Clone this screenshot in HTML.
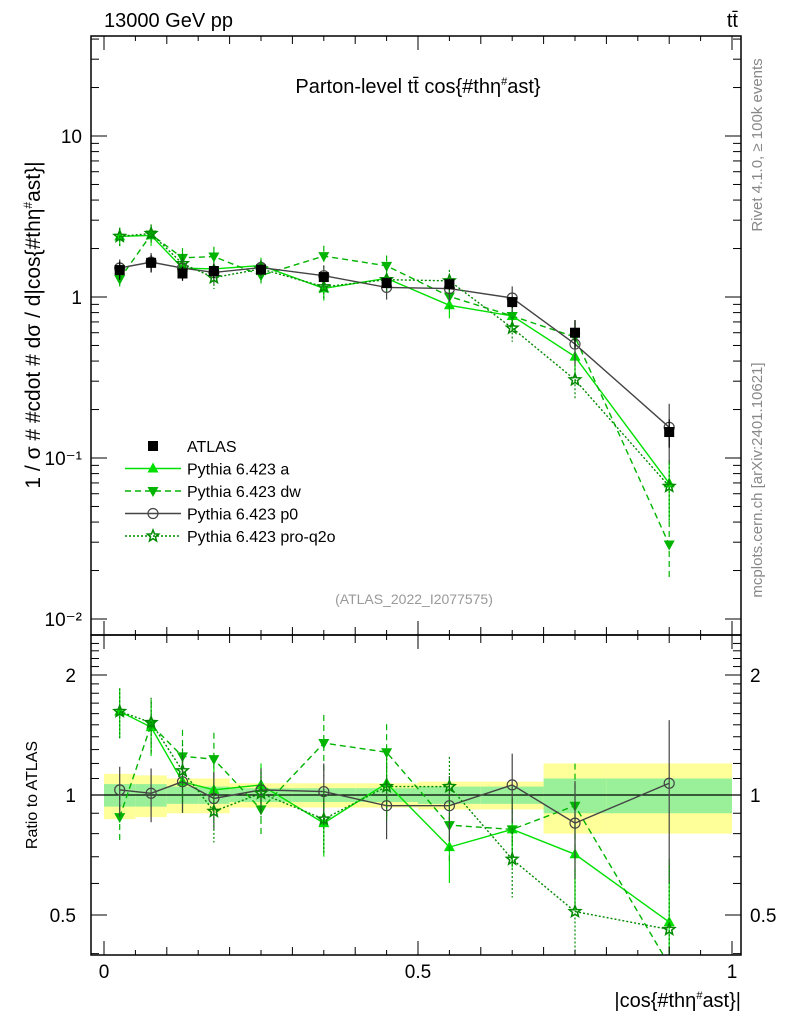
<!DOCTYPE html>
<html><head><meta charset="utf-8">
<style>
html,body{margin:0;padding:0;background:#fff;overflow:hidden;width:786px;height:1024px;}
svg{display:block;}
svg text{font-family:"Liberation Sans",sans-serif;}
</style></head>
<body>
<svg id="c" width="786" height="1024" viewBox="0 0 786 1024" xmlns="http://www.w3.org/2000/svg">
<text x="104" y="27" font-size="20">13000 GeV pp</text>
<text x="738" y="27" font-size="20" text-anchor="end">tt̄</text>
<text x="418" y="93" font-size="20" text-anchor="middle">Parton-level tt̄ cos{#thη<tspan font-size="11" dy="-8">#</tspan><tspan dy="8">ast}</tspan></text>
<text transform="translate(40,325) rotate(-90)" font-size="21" text-anchor="middle">1 / σ # #cdot # dσ / d|cos{#thη<tspan font-size="12" dy="-8">#</tspan><tspan dy="8">ast}|</tspan></text>
<text transform="translate(37,795) rotate(-90)" font-size="16" text-anchor="middle">Ratio to ATLAS</text>
<text x="741" y="1007" font-size="20" text-anchor="end">|cos{#thη<tspan font-size="11" dy="-8">#</tspan><tspan dy="8">ast}|</tspan></text>
<text transform="translate(762,145) rotate(-90)" font-size="15" fill="#888" text-anchor="middle">Rivet 4.1.0, ≥ 100k events</text>
<text transform="translate(762,480) rotate(-90)" font-size="15" fill="#888" text-anchor="middle">mcplots.cern.ch [arXiv:2401.10621]</text>
<text x="414" y="604" font-size="14" fill="#999" text-anchor="middle">(ATLAS_2022_I2077575)</text>
<g id="g"></g>
</svg>
<script>
const binEdges=[0,0.05,0.1,0.15,0.2,0.3,0.4,0.5,0.6,0.7,0.8,1.0];
const atlas=[1.47,1.63,1.40,1.45,1.48,1.33,1.22,1.20,0.93,0.60,0.145];
const bandGreen=[0.065,0.065,0.05,0.05,0.04,0.04,0.04,0.05,0.05,0.10,0.10];
const bandYellow=[0.13,0.12,0.10,0.10,0.07,0.07,0.07,0.08,0.08,0.20,0.20];
const ratioA=[1.62,1.48,1.08,1.03,1.06,0.85,1.07,0.74,0.82,0.71,0.48];
const ratioDw=[0.88,1.50,1.25,1.23,0.92,1.35,1.28,0.84,0.82,0.94,0.20];
const ratioP0=[1.03,1.01,1.08,0.98,1.03,1.02,0.94,0.94,1.06,0.85,1.07];
const ratioPro=[1.62,1.52,1.15,0.91,1.01,0.87,1.05,1.05,0.69,0.51,0.46];
const relErr=[0.13,0.14,0.15,0.15,0.12,0.16,0.16,0.17,0.18,0.25,0.40];
const xTicks=[0,0.5,1];
const yTicks=[10,1,0.1,0.01];
const yTickLabels=["10","1","10⁻¹","10⁻²"];
const rTicks=[2,1,0.5];

const NS="http://www.w3.org/2000/svg";
const g=document.getElementById('g');
const L=91,R=741,T=36,MB=635,RB=955;
const X=v=>104+v*628;
const Y=v=>Math.min(Math.max(297-Math.log10(v)*161,T-10),MB+10);
const RY=v=>Math.min(Math.max(795-Math.log2(v)*120,MB-10),RB+10);
function el(tag,attrs,parent){const e=document.createElementNS(NS,tag);for(const k in attrs)e.setAttribute(k,attrs[k]);(parent||g).appendChild(e);return e;}
const mids=binEdges.slice(0,-1).map((e,i)=>(e+binEdges[i+1])/2);

const defs=el('defs',{});
const c1=el('clipPath',{id:'cm'},defs);el('rect',{x:L,y:T,width:R-L,height:MB-T},c1);
const c2=el('clipPath',{id:'cr'},defs);el('rect',{x:L,y:MB,width:R-L,height:RB-MB},c2);

const bandG=el('g',{'clip-path':'url(#cr)'});


mids.forEach((m,i)=>{
  const x0=X(binEdges[i]),x1=X(binEdges[i+1]);
  const y=el('rect',{x:x0,y:RY(1+bandYellow[i]),width:x1-x0,height:RY(1-bandYellow[i])-RY(1+bandYellow[i]),fill:'#ffff99'},bandG);
  
  
  const gg=el('rect',{x:x0,y:RY(1+bandGreen[i]),width:x1-x0,height:RY(1-bandGreen[i])-RY(1+bandGreen[i]),fill:'#99f099'},bandG);
  
  
});
const one=el('line',{x1:L,x2:R,y1:RY(1),y2:RY(1),stroke:'#000','stroke-width':1.3});



function marker(type,x,y,color,parent){
  if(type==='sq')return el('rect',{x:x-5,y:y-5,width:10,height:10,fill:'#000'},parent);
  if(type==='up')return el('polygon',{points:`${x},${y-6} ${x-5.5},${y+4} ${x+5.5},${y+4}`,fill:color},parent);
  if(type==='dn')return el('polygon',{points:`${x},${y+6} ${x-5.5},${y-4} ${x+5.5},${y-4}`,fill:color},parent);
  if(type==='ci')return el('circle',{cx:x,cy:y,r:5,fill:'none',stroke:color,'stroke-width':1.2},parent);
  if(type==='st'){let p=[];for(let k=0;k<10;k++){const r=k%2?2.6:6;const a=-Math.PI/2+k*Math.PI/5;p.push((x+r*Math.cos(a)).toFixed(1)+','+(y+r*Math.sin(a)).toFixed(1));}
    return el('polygon',{points:p.join(' '),fill:'none',stroke:color,'stroke-width':1.5},parent);}
}
const series=[
 {name:'pythia-a',r:ratioA,color:'#00e000',dash:'',m:'up'},
 {name:'pythia-dw',r:ratioDw,color:'#00b400',dash:'6,4',m:'dn'},
 {name:'pythia-p0',r:ratioP0,color:'#444',dash:'',m:'ci'},
 {name:'pythia-pro-q2o',r:ratioPro,color:'#008a00',dash:'2,2',m:'st'}
];
series.forEach(s=>{
  const grp=el('g',{'clip-path':'url(#cm)'});
  
  
  const vals=s.r.map((r,i)=>r*atlas[i]);
  el('polyline',{points:vals.map((v,i)=>X(mids[i])+','+Y(v)).join(' '),fill:'none',stroke:s.color,'stroke-width':1.4,'stroke-dasharray':s.dash},grp);
  vals.forEach((v,i)=>{
    const e=relErr[i]*v;
    el('line',{x1:X(mids[i]),x2:X(mids[i]),y1:Y(v+e),y2:Y(Math.max(v-e,1e-4)),stroke:s.color,'stroke-width':1.2,'stroke-dasharray':s.dash},grp);
    const mk=marker(s.m,X(mids[i]),Y(v),s.color,grp);
    
    
  });
  const grp2=el('g',{'clip-path':'url(#cr)'});
  
  
  el('polyline',{points:s.r.map((v,i)=>X(mids[i])+','+RY(v)).join(' '),fill:'none',stroke:s.color,'stroke-width':1.4,'stroke-dasharray':s.dash},grp2);
  s.r.forEach((v,i)=>{
    const e=relErr[i]*v*1.1;
    el('line',{x1:X(mids[i]),x2:X(mids[i]),y1:RY(v+e),y2:RY(Math.max(v-e,0.05)),stroke:s.color,'stroke-width':1.2,'stroke-dasharray':s.dash},grp2);
    const mk=marker(s.m,X(mids[i]),RY(v),s.color,grp2);
    
    
  });
});
const ag=el('g',{});


atlas.forEach((v,i)=>{
  el('line',{x1:X(mids[i]),x2:X(mids[i]),y1:Y(v*(1+bandYellow[i])),y2:Y(v*(1-bandYellow[i])),stroke:'#000','stroke-width':1.2},ag);
  const mk=marker('sq',X(mids[i]),Y(v),'#000',ag);
  
  
});

[[T,MB],[MB,RB]].forEach(([a,b],k)=>{
  const f=el('rect',{x:L,y:a,width:R-L,height:b-a,fill:'none',stroke:'#000','stroke-width':1.5});
  
  
  for(let v=0;v<=1.0001;v+=0.05){
    const len=(Math.abs(v*10-Math.round(v*10))<1e-6)?(Math.abs(v*2-Math.round(v*2))<1e-6?14:8):5;
    el('line',{x1:X(v),x2:X(v),y1:b,y2:b-len,stroke:'#000'});
    el('line',{x1:X(v),x2:X(v),y1:a,y2:a+len,stroke:'#000'});
  }
});
for(let d=-2;d<=1;d++){for(let m=1;m<10;m++){const v=m*Math.pow(10,d);const yr=297-Math.log10(v)*161;if(yr<T||yr>MB)continue;const len=m===1?16:8;
  el('line',{x1:L,x2:L+len,y1:yr,y2:yr,stroke:'#000'});el('line',{x1:R,x2:R-len,y1:yr,y2:yr,stroke:'#000'});}}
yTicks.forEach((v,i)=>{
  const t=el('text',{x:82,y:Y(v)+7,'font-size':19,'text-anchor':'end'});t.textContent=yTickLabels[i];
  
  
});
for(let v=0.4;v<=2.5;v+=0.1){const yr=795-Math.log2(v)*120;if(yr<MB||yr>RB)continue;const major=rTicks.some(t=>Math.abs(t-v)<1e-6);
  el('line',{x1:L,x2:L+(major?16:8),y1:yr,y2:yr,stroke:'#000'});el('line',{x1:R,x2:R-(major?16:8),y1:yr,y2:yr,stroke:'#000'});}
rTicks.forEach(v=>{
  const t=el('text',{x:76,y:RY(v)+7,'font-size':19,'text-anchor':'end'});t.textContent=String(v);
  
  
  const t2=el('text',{x:750,y:RY(v)+7,'font-size':19});t2.textContent=String(v);
  
  
});
xTicks.forEach(v=>{
  const t=el('text',{x:X(v),y:978,'font-size':19,'text-anchor':'middle'});t.textContent=String(v);
  
  
});
const lg=el('g',{});


const legItems=[['ATLAS','sq','#000',''],['Pythia 6.423 a','up','#00e000',''],['Pythia 6.423 dw','dn','#00b400','6,4'],['Pythia 6.423 p0','ci','#444',''],['Pythia 6.423 pro-q2o','st','#008a00','2,2']];
legItems.forEach((it,i)=>{
  const y=446+i*22.5;
  const e=el('g',{},lg);
  
  
  if(i>0)el('line',{x1:125,x2:181,y1:y,y2:y,stroke:it[2],'stroke-width':1.4,'stroke-dasharray':it[3]},e);
  marker(it[1],153,y,it[2],e);
  const t=el('text',{x:187,y:y+6,'font-size':16},e);t.textContent=it[0];
});
</script>
</body></html>
